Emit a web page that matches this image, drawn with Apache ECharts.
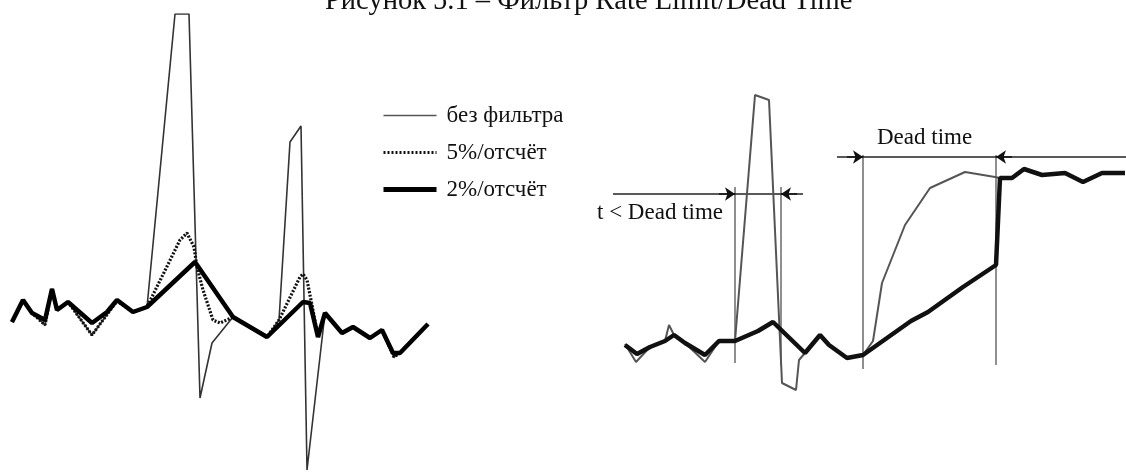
<!DOCTYPE html>
<html>
<head>
<meta charset="utf-8">
<script src="https://cdn.jsdelivr.net/npm/echarts@6/dist/echarts.min.js"></script>
<style>
    html, body { margin: 0; padding: 0; background: #fff; }
    #chart { width: 1126px; height: 474px; }
</style>
</head>
<body>
<div id="chart"></div>
<script>
// левая панель: [время, значение]
const rawLeft = [
    [1.2, 4.5], [2.3, 10], [3.2, 6.75], [4.5, 3.75], [5.2, 12.75], [5.7, 7.5], [6.8, 9.5],
    [9.2, 1.25], [11.7, 9.75], [13.3, 7], [14.7, 8.25], [17.5, 81.5], [18.9, 81.5],
    [20.0, -14.5], [21.2, -0.75], [23.3, 5.75], [26.7, 0.75], [27.9, 5], [29.0, 49.5],
    [30.1, 53.5], [30.7, -32.5], [32.5, 6.75], [34.2, 1.75], [35.3, 3.25], [37.0, 0.5],
    [38.2, 2.5], [39.4, -4.25], [40.0, -3.25], [42.8, 4]
];
const rate5 = [
    [1.2, 4.5], [2.3, 10], [3.2, 6.75], [4.5, 3.75], [5.2, 12.75], [5.7, 7.5], [6.8, 9.5],
    [9.2, 1.25], [11.7, 9.75], [13.3, 7], [14.7, 8.25], [18.0, 25], [18.7, 26.75],
    [19.4, 23.25], [19.7, 18.25], [20.3, 12.5], [21.3, 5], [22.0, 4.25], [23.3, 5.75],
    [26.7, 0.75], [27.9, 5], [30.0, 15.75], [30.3, 16.5], [30.7, 15], [31.2, 8.75],
    [31.8, 0.75], [32.5, 6.75], [34.2, 1.75], [35.3, 3.25], [37.0, 0.5], [38.2, 2.5],
    [39.4, -4.25], [40.0, -3.25], [42.8, 4]
];
const rate2 = [
    [1.2, 4.5], [2.3, 10], [3.2, 6.75], [4.5, 5], [5.2, 12.75], [5.7, 7.5], [6.8, 9.5],
    [9.2, 4.25], [10.7, 7], [11.7, 10], [13.3, 7], [14.7, 8.25], [19.5, 19.5], [23.3, 5.75],
    [26.7, 0.75], [30.3, 9.5], [31.0, 9.25], [31.8, 0.75], [32.5, 6.75], [34.2, 1.75],
    [35.3, 3.25], [37.0, 0.5], [38.2, 2.5], [39.3, -3.25], [40.0, -3.25], [42.8, 4]
];

// правая панель (Dead time)
const rawRight = [
    [2.5, -1], [3.6, -5.5], [5.0, -1.75], [6.5, -0.25], [6.9, 3.75], [7.4, 1.25], [8.5, -0.75],
    [10.5, -5.5], [11.9, -0.25], [13.5, -0.25], [15.5, 61.25], [16.9, 60], [18.2, -10.75],
    [19.6, -12.5], [19.9, -5], [20.5, -3.25], [22.0, 1.25], [22.9, -1.25], [24.7, -4.5],
    [26.3, -3.75], [27.3, -0.25], [28.2, 14.25], [30.5, 28.75], [33.0, 38], [36.5, 42],
    [39.5, 40.75], [40.0, 40.5], [41.2, 40.5], [42.4, 42.75], [44.2, 41.25], [46.5, 41.75],
    [48.3, 39.5], [50.2, 41.75], [52.5, 41.75]
];
const deadRight = [
    [2.5, -1.25], [3.7, -3.5], [5.0, -1.75], [6.5, -0.25], [7.4, 1.25], [8.5, -0.75],
    [10.5, -3.75], [11.9, -0.25], [13.5, -0.25], [15.8, 2.25], [17.3, 4.5], [20.5, -3.25],
    [22.0, 1.25], [22.9, -1.25], [24.7, -4.5], [26.3, -3.75], [31.1, 4.75], [32.8, 7],
    [36.3, 13.25], [39.6, 18.75], [40.0, 40.5], [41.2, 40.5], [42.4, 42.75], [44.2, 41.25],
    [46.5, 41.75], [48.3, 39.5], [50.2, 41.75], [52.5, 41.75]
];

// вертикальные отметки
const guideT = [13.5, 18.1, 26.3, 39.6];
const guideTop = [38.25, 38.25, 46.25, 46.25];
const guideBottom = [-5.75, -6.25, -7.25, -6.25];
// размерные линии: уровень, начало, конец, острия стрелок
const spanY = [36.5, 45.75];
const spanFrom = [1.3, 23.7];
const spanTo = [20.3, 52.6];
const spanTipIn = [13.5, 26.3];
const spanTipOut = [18.1, 39.6];

const names = ['без фильтра', '5%/отсчёт', '2%/отсчёт'];
const serif = "'Liberation Serif', 'DejaVu Serif', serif";

const chart = echarts.init(document.getElementById('chart'));

const guideLines = guideT.map((t, i) => ({ coords: [[t, guideTop[i]], [t, guideBottom[i]]] }));
const spanLines = spanY.map((y, i) => ({ coords: [[spanFrom[i], y], [spanTo[i], y]] }));
const arrowLines = [];
spanY.forEach((y, i) => {
    arrowLines.push({ coords: [[spanTipIn[i] - 1.6, y], [spanTipIn[i], y]] });
    arrowLines.push({ coords: [[spanTipOut[i] + 1.6, y], [spanTipOut[i], y]] });
});

chart.setOption({
    animation: false,
    backgroundColor: '#fff',
    title: {
        text: 'Рисунок 5.1 – Фильтр Rate Limit/Dead Time',
        left: 325,
        top: -13,
        padding: 0,
        textStyle: { fontFamily: serif, fontSize: 28.5, fontWeight: 'normal', color: '#111' }
    },
    legend: {
        data: [
            { name: names[0], lineStyle: { color: '#555', width: 1.6 } },
            { name: names[1], lineStyle: { color: '#111', width: 3, type: [2, 2] } },
            { name: names[2], lineStyle: { color: '#000', width: 5 } }
        ],
        orient: 'vertical',
        left: 381,
        top: 104,
        padding: 0,
        itemWidth: 53,
        itemHeight: 14,
        itemGap: 14,
        itemStyle: { opacity: 0 },
        textStyle: { fontFamily: serif, fontSize: 23, color: '#111', lineHeight: 22, padding: [0, 0, 0, 5] }
    },
    grid: [
        { left: 0, top: 14, width: 440, bottom: 0 },
        { left: 600, top: 14, width: 526, bottom: 0 }
    ],
    xAxis: [
        { type: 'value', gridIndex: 0, min: 0, max: 44, show: false },
        { type: 'value', gridIndex: 1, min: 0, max: 52.6, show: false }
    ],
    yAxis: [
        { type: 'value', gridIndex: 0, min: -33.5, max: 81.5, show: false },
        { type: 'value', gridIndex: 1, min: -33.5, max: 81.5, show: false }
    ],
    graphic: [
        { type: 'text', left: 597, top: 201, style: { text: 't < Dead time', font: '23px ' + serif, fill: '#111' } },
        { type: 'text', left: 877, top: 126, style: { text: 'Dead time', font: '23px ' + serif, fill: '#111' } }
    ],
    series: [
        {
            name: names[0], type: 'line', xAxisIndex: 0, yAxisIndex: 0, data: rawLeft,
            symbol: 'none', lineStyle: { color: '#333', width: 1.6 }, itemStyle: { color: '#333' }
        },
        {
            name: names[1], type: 'line', xAxisIndex: 0, yAxisIndex: 0, data: rate5,
            symbol: 'none', lineStyle: { color: '#111', width: 3.2, type: [2, 1.6] }, itemStyle: { color: '#111' }
        },
        {
            name: names[2], type: 'line', xAxisIndex: 0, yAxisIndex: 0, data: rate2,
            symbol: 'none', lineStyle: { color: '#000', width: 4.5 }, itemStyle: { color: '#000' }
        },
        {
            name: 'guides', type: 'lines', coordinateSystem: 'cartesian2d', xAxisIndex: 1, yAxisIndex: 1,
            data: guideLines, lineStyle: { color: '#6a6a6a', width: 1.5, opacity: 1 }
        },
        {
            name: 'spans', type: 'lines', coordinateSystem: 'cartesian2d', xAxisIndex: 1, yAxisIndex: 1,
            data: spanLines, lineStyle: { color: '#222', width: 1.5, opacity: 1 }
        },
        {
            name: 'arrows', type: 'lines', coordinateSystem: 'cartesian2d', xAxisIndex: 1, yAxisIndex: 1,
            data: arrowLines, symbol: ['none', 'arrow'], symbolSize: 10,
            lineStyle: { color: '#111', width: 1.5, opacity: 1 }
        },
        {
            name: 'raw', type: 'line', xAxisIndex: 1, yAxisIndex: 1, data: rawRight,
            symbol: 'none', lineStyle: { color: '#555', width: 2 }
        },
        {
            name: 'filtered', type: 'line', xAxisIndex: 1, yAxisIndex: 1, data: deadRight,
            symbol: 'none', lineStyle: { color: '#111', width: 4.5 }
        }
    ]
});
</script>
</body>
</html>
